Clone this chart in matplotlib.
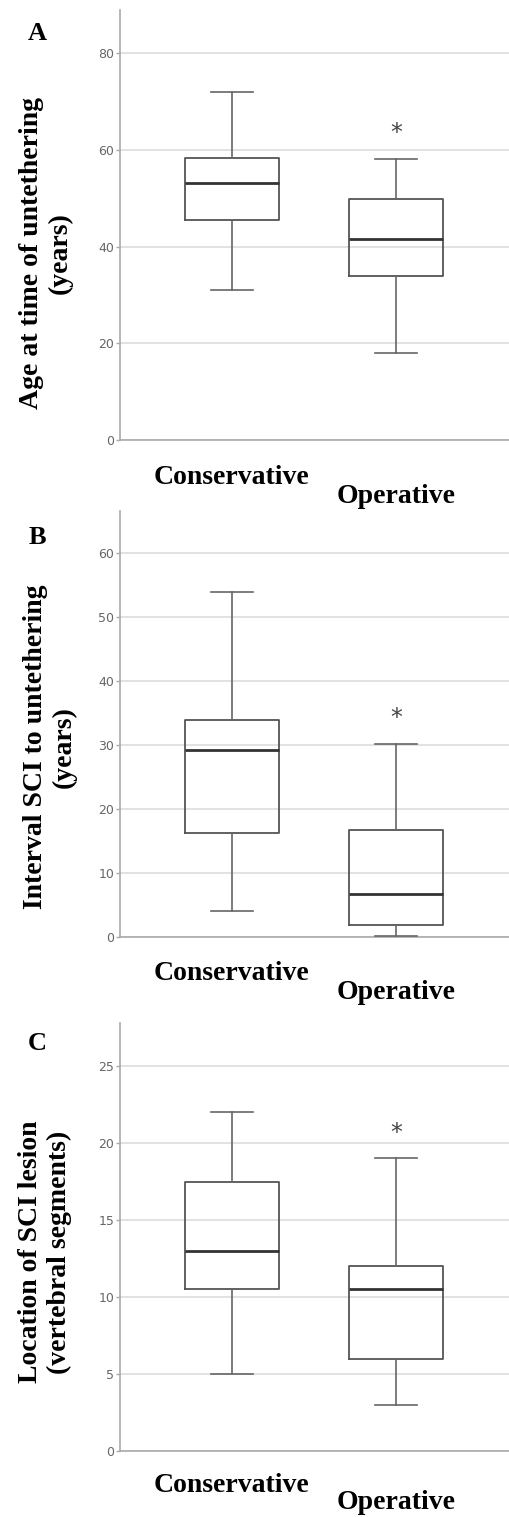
import matplotlib
matplotlib.use('Agg')
import matplotlib.pyplot as plt

# Grupos
categorias = ['Conservative', 'Operative']

# Panel A: edad al momento del untethering (años)
a_whislo = [31.0, 18.1]
a_q1 = [45.6, 33.9]
a_med = [53.2, 41.5]
a_q3 = [58.4, 49.8]
a_whishi = [72.1, 58.1]
a_ast = 65.0

# Panel B: intervalo SCI a untethering (años)
b_whislo = [4.0, 0.2]
b_q1 = [16.2, 1.8]
b_med = [29.3, 6.8]
b_q3 = [34.0, 16.8]
b_whishi = [54.0, 30.2]
b_ast = 35.3

# Panel C: localización de la lesión (segmentos vertebrales)
c_whislo = [5.0, 3.0]
c_q1 = [10.5, 6.0]
c_med = [13.0, 10.5]
c_q3 = [17.5, 12.0]
c_whishi = [22.0, 19.0]
c_ast = 21.1

W, H = 509, 1517
fig = plt.figure(figsize=(W / 100, H / 100), dpi=100)

paneles = [
    ('A', 'Age at time of untethering\n(years)', a_whislo, a_q1, a_med, a_q3, a_whishi, a_ast,
     [0, 20, 40, 60, 80], 89, (10, 440), (46, 253), 23, (18, 32)),
    ('B', 'Interval SCI to untethering\n(years)', b_whislo, b_q1, b_med, b_q3, b_whishi, b_ast,
     [0, 10, 20, 30, 40, 50, 60], 66.6, (511, 937), (50, 747), 27, (17, 31)),
    ('C', 'Location of SCI lesion\n(vertebral segments)', c_whislo, c_q1, c_med, c_q3, c_whishi, c_ast,
     [0, 5, 10, 15, 20, 25], 27.8, (1023, 1451), (45, 1252), 20, (16, 28)),
]

serif = ['Liberation Serif', 'DejaVu Serif']

for letra, ylabel, lo, q1, med, q3, hi, ast, ticks, ymax, (top, bot), (lx, ly), dl, pads in paneles:
    ax = fig.add_axes([120 / W, 1 - bot / H, (W - 120) / W, (bot - top) / H])
    stats = []
    for i in range(len(categorias)):
        stats.append({'whislo': lo[i], 'q1': q1[i], 'med': med[i], 'q3': q3[i],
                      'whishi': hi[i], 'fliers': [], 'label': categorias[i]})
    ax.bxp(stats, positions=[1, 2], widths=0.575, capwidths=0.26, showfliers=False,
           boxprops=dict(color='#555555', linewidth=1.3),
           whiskerprops=dict(color='#666666', linewidth=1.2),
           capprops=dict(color='#666666', linewidth=1.2),
           medianprops=dict(color='#333333', linewidth=2.0), zorder=3)
    # asterisco de significancia sobre el grupo operativo
    ax.annotate('*', xy=(2, ast), xytext=(0, -5), textcoords='offset points',
                ha='center', va='center', fontsize=17, color='#444444', family='DejaVu Sans')

    ax.set_xlim(0.317, 2.69)
    ax.set_ylim(0, ymax)
    ax.set_yticks(ticks)
    ax.yaxis.grid(True, color='#dddddd', linewidth=1.2, zorder=0)
    ax.set_axisbelow(True)
    for s in ['top', 'right']:
        ax.spines[s].set_visible(False)
    for s in ['left', 'bottom']:
        ax.spines[s].set_color('#aaaaaa')
        ax.spines[s].set_linewidth(1.2)
    ax.tick_params(axis='y', length=3, width=1, color='#aaaaaa', labelsize=9,
                   labelcolor='#666666', pad=1)
    ax.tick_params(axis='x', length=0)
    ax.set_xticks([1, 2])
    ax.set_xticklabels(categorias, fontsize=20, fontweight='bold', family=serif)
    xt = ax.xaxis.get_major_ticks()
    xt[0].set_pad(pads[0])
    xt[1].set_pad(pads[1])

    fig.text(37 / W, 1 - (top + dl) / H, letra, fontsize=19, fontweight='bold',
             family=serif, ha='center', va='center')
    fig.text(lx / W, 1 - ly / H, ylabel, fontsize=20, fontweight='bold', family=serif,
             rotation=90, ha='center', va='center', linespacing=1.15)

fig.savefig('out.png', dpi=100)
